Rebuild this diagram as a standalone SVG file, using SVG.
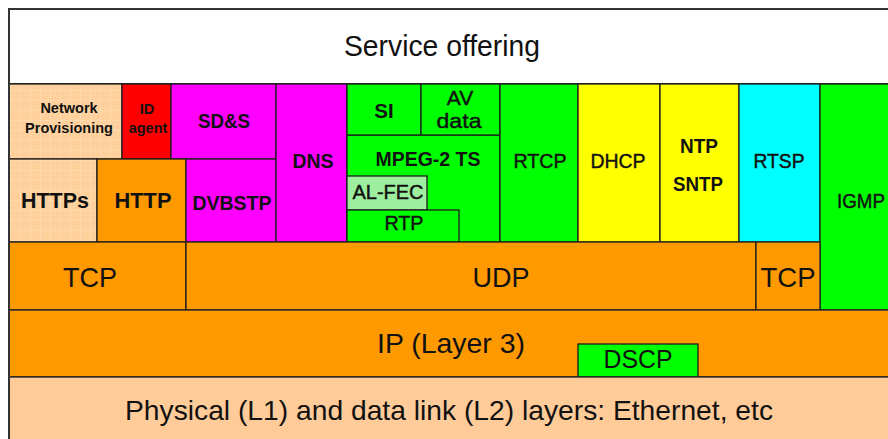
<svg xmlns="http://www.w3.org/2000/svg" width="888" height="439" viewBox="0 0 888 439">
  <defs>
    <!-- soft tiled texture used on the provisioning boxes -->
    <pattern id="peachTile" width="10" height="10" patternUnits="userSpaceOnUse">
      <rect width="10" height="10" fill="#FFD09B"/>
      <path d="M0 0.5H10M0.5 0V10" stroke="#FFDAAE" stroke-width="1"/>
      <circle cx="5" cy="5" r="0.7" fill="#FFD8AA"/>
    </pattern>
    <pattern id="greenTile" width="4" height="4" patternUnits="userSpaceOnUse">
      <rect width="4" height="4" fill="#9CEE9C"/>
      <rect width="1" height="1" fill="#B2F3B2"/>
    </pattern>
  </defs>
  <style>
    .box { stroke: #1e1e1e; stroke-width: 1.3; }
    .frame { stroke: #333; stroke-width: 2; }
    .lbl { font-family: "Liberation Sans", Arial, sans-serif; fill: #111; text-anchor: middle; }
    .b { font-weight: bold; }
    .heavy { stroke: #111; stroke-width: 0.45; }
    .big { font-size: 28px; }
    .mid { font-size: 20.5px; }
    .sm { font-size: 14.5px; }
    .peach { fill: url(#peachTile); }
    .red { fill: #FF0000; }
    .mag { fill: #FF00FF; }
    .grn { fill: #00FF00; }
    .ltg { fill: url(#greenTile); }
    .yel { fill: #FFFF00; }
    .cyn { fill: #00FFFF; }
    .org { fill: #FF9900; }
    .skin { fill: #FFCC99; }
  </style>

  <rect width="888" height="439" fill="#ffffff"/>

  <!-- application layer -->
  <g id="service-offering">
    <rect class="frame" x="9" y="9" width="890" height="75" fill="#ffffff"/>
    <text class="lbl" style="font-size:30px" x="442" y="56" textLength="196" lengthAdjust="spacingAndGlyphs">Service offering</text>
  </g>

  <g id="network-provisioning">
    <rect class="box peach" x="9" y="84" width="113" height="75"/>
    <text class="lbl b sm" x="69" y="113">Network</text>
    <text class="lbl b sm" x="69" y="133">Provisioning</text>
  </g>
  <g id="id-agent">
    <rect class="box red" x="122" y="84" width="49" height="75"/>
    <text class="lbl b sm" x="147" y="114">ID</text>
    <text class="lbl b sm" x="148" y="133">agent</text>
  </g>
  <g id="sds">
    <rect class="box mag" x="171" y="84" width="105" height="75"/>
    <text class="lbl b mid" x="224" y="128" textLength="52" lengthAdjust="spacingAndGlyphs">SD&amp;S</text>
  </g>
  <g id="https">
    <rect class="box peach" x="9" y="159" width="88" height="83"/>
    <text class="lbl b" style="font-size:22px" x="55" y="208" textLength="68" lengthAdjust="spacingAndGlyphs">HTTPs</text>
  </g>
  <g id="http">
    <rect class="box org" x="97" y="159" width="89" height="83"/>
    <text class="lbl b" style="font-size:22px" x="143" y="208" textLength="57" lengthAdjust="spacingAndGlyphs">HTTP</text>
  </g>
  <g id="dvbstp">
    <rect class="box mag" x="186" y="159" width="90" height="83"/>
    <text class="lbl b mid" x="232" y="210" textLength="79" lengthAdjust="spacingAndGlyphs">DVBSTP</text>
  </g>
  <g id="dns">
    <rect class="box mag" x="276" y="84" width="71" height="158"/>
    <text class="lbl b mid" x="313" y="168" textLength="41" lengthAdjust="spacingAndGlyphs">DNS</text>
  </g>
  <g id="mpeg2-ts">
    <rect class="box grn" x="347" y="135" width="153" height="107"/>
    <text class="lbl b mid" x="428" y="166" textLength="105" lengthAdjust="spacingAndGlyphs">MPEG-2 TS</text>
  </g>
  <g id="si">
    <rect class="box grn" x="347" y="84" width="74" height="51"/>
    <text class="lbl b mid" x="384" y="118">SI</text>
  </g>
  <g id="av-data">
    <rect class="box grn" x="421" y="84" width="79" height="51"/>
    <text class="lbl heavy" style="font-size:21px" x="460" y="105">AV</text>
    <text class="lbl heavy" style="font-size:21px" x="459" y="128" textLength="45" lengthAdjust="spacingAndGlyphs">data</text>
  </g>
  <g id="al-fec">
    <rect class="box ltg" x="347" y="176" width="80" height="34"/>
    <text class="lbl heavy" style="font-size:21px" x="388" y="199" textLength="71" lengthAdjust="spacingAndGlyphs">AL-FEC</text>
  </g>
  <g id="rtp">
    <rect class="box grn" x="347" y="210" width="112" height="32"/>
    <text class="lbl mid heavy" x="404" y="230" textLength="39" lengthAdjust="spacingAndGlyphs">RTP</text>
  </g>
  <g id="rtcp">
    <rect class="box grn" x="500" y="84" width="78" height="158"/>
    <text class="lbl mid heavy" x="540" y="168" textLength="53" lengthAdjust="spacingAndGlyphs">RTCP</text>
  </g>
  <g id="dhcp">
    <rect class="box yel" x="578" y="84" width="82" height="158"/>
    <text class="lbl mid heavy" x="618" y="168" textLength="55" lengthAdjust="spacingAndGlyphs">DHCP</text>
  </g>
  <g id="ntp-sntp">
    <rect class="box yel" x="660" y="84" width="79" height="158"/>
    <text class="lbl b mid" x="699" y="153" textLength="38" lengthAdjust="spacingAndGlyphs">NTP</text>
    <text class="lbl b mid" x="698" y="191" textLength="50" lengthAdjust="spacingAndGlyphs">SNTP</text>
  </g>
  <g id="rtsp">
    <rect class="box cyn" x="739" y="84" width="81" height="158"/>
    <text class="lbl mid heavy" x="779" y="168" textLength="51" lengthAdjust="spacingAndGlyphs">RTSP</text>
  </g>
  <g id="igmp">
    <rect class="box grn" x="820" y="84" width="75" height="226"/>
    <text class="lbl mid heavy" x="861" y="208" textLength="48" lengthAdjust="spacingAndGlyphs">IGMP</text>
  </g>

  <!-- transport layer -->
  <g id="tcp-left">
    <rect class="box org" x="9" y="242" width="177" height="68"/>
    <text class="lbl" style="font-size:28px" x="90" y="287" textLength="54" lengthAdjust="spacingAndGlyphs">TCP</text>
  </g>
  <g id="udp">
    <rect class="box org" x="186" y="242" width="570" height="68"/>
    <text class="lbl" style="font-size:28px" x="501" y="287" textLength="57" lengthAdjust="spacingAndGlyphs">UDP</text>
  </g>
  <g id="tcp-right">
    <rect class="box org" x="756" y="242" width="64" height="68"/>
    <text class="lbl" style="font-size:28px" x="788" y="287" textLength="55" lengthAdjust="spacingAndGlyphs">TCP</text>
  </g>

  <!-- network layer -->
  <g id="ip">
    <rect class="box org" x="9" y="310" width="886" height="67"/>
    <text class="lbl big" x="451" y="353" textLength="148" lengthAdjust="spacingAndGlyphs">IP (Layer 3)</text>
  </g>
  <g id="dscp">
    <rect class="box grn" x="578" y="344" width="120" height="33"/>
    <text class="lbl" style="font-size:25px" x="638" y="368" textLength="69" lengthAdjust="spacingAndGlyphs">DSCP</text>
  </g>

  <!-- physical and link layers -->
  <g id="physical">
    <rect class="box skin" x="9" y="377" width="886" height="70"/>
    <text class="lbl big" x="449" y="420" textLength="648" lengthAdjust="spacingAndGlyphs">Physical (L1) and data link (L2) layers: Ethernet, etc</text>
  </g>

  <!-- outer left edge -->
  <g id="connectors">
    <line x1="9" y1="9" x2="9" y2="439" stroke="#333" stroke-width="2"/>
  </g>
</svg>
